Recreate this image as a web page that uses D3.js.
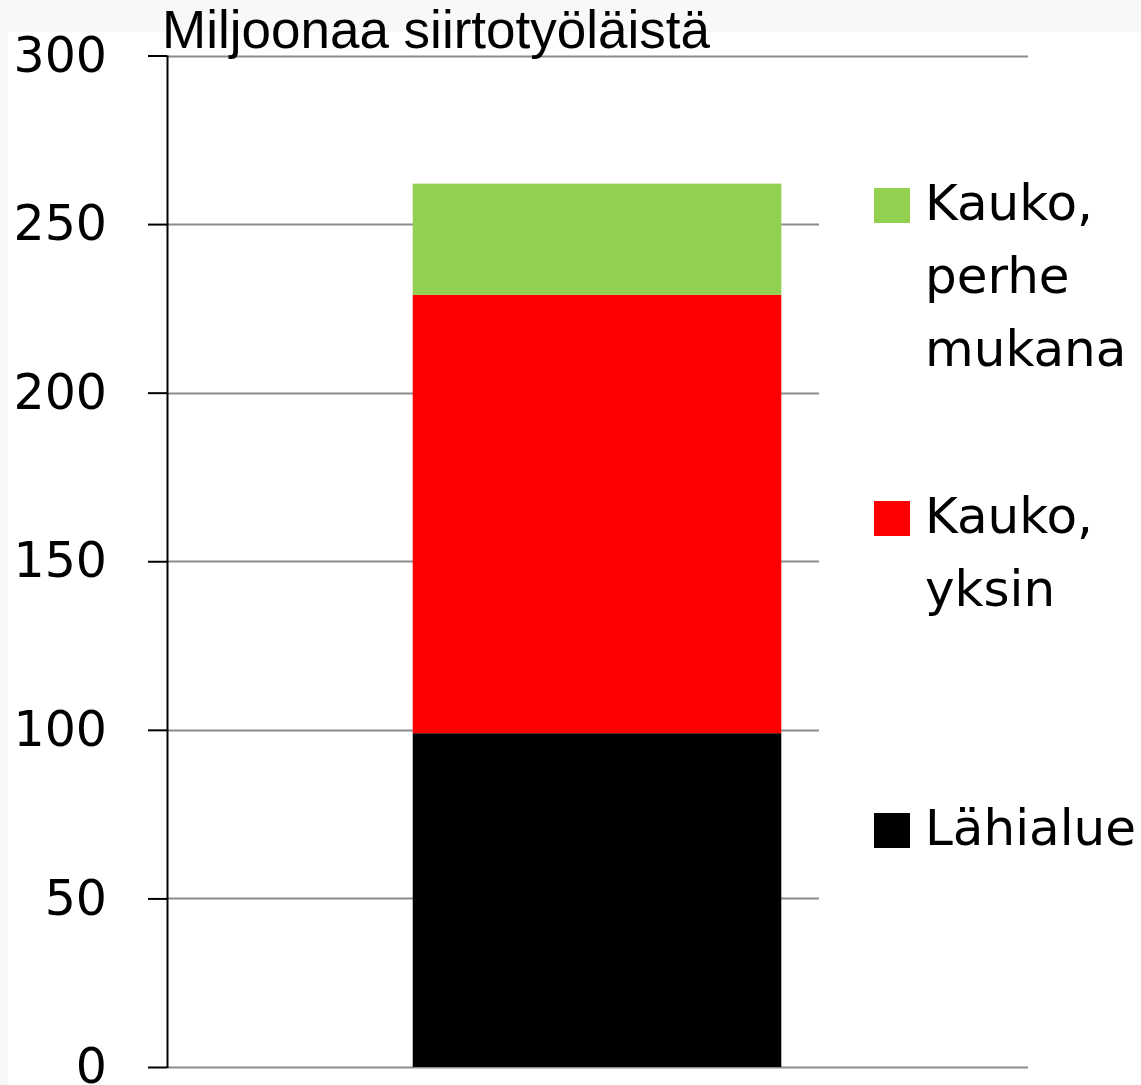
<!DOCTYPE html>
<html>
<head>
<meta charset="utf-8">
<script src="https://cdn.jsdelivr.net/npm/d3@7"></script>
<style>
  html, body { margin: 0; padding: 0; background: #fff; }
  svg { display: block; }
</style>
</head>
<body>
<script>
// ---- Data ----
const categories = ["Siirtotyöläiset"];
const seriesNames = ["Lähialue", "Kauko, yksin", "Kauko, perhe mukana"];
const seriesValues = [99, 130, 33];            // stacked bottom → top
const seriesColors = ["#000000", "#ff0000", "#92d050"];
const legendLines = [["Kauko,", "perhe", "mukana"], ["Kauko,", "yksin"], ["Lähialue"]];
const legendOrder = [2, 1, 0];
const tickValues = [0, 50, 100, 150, 200, 250, 300];
const titleText = "Miljoonaa siirtotyöläistä";

// ---- Layout ----
const W = 1141, H = 1085;
const svg = d3.select("body").append("svg").attr("width", W).attr("height", H);

// faint background strips
svg.append("rect").attr("x", 0).attr("y", 0).attr("width", W).attr("height", 32).attr("fill", "#f6f8fa");
svg.append("rect").attr("x", 0).attr("y", 0).attr("width", 8).attr("height", H).attr("fill", "#f6f8fa");
svg.append("rect").attr("x", 8).attr("y", 32).attr("width", W - 8).attr("height", H - 32).attr("fill", "#fff");

const x0 = 167, x1 = 1028;
const y = d3.scaleLinear().domain([0, 300]).range([1067, 55.5]);
const x = d3.scaleBand().domain(categories).range([x0, x1 - 1]).padding(0.4);

// gridlines
svg.append("g").selectAll("line").data(tickValues).join("line")
  .attr("x1", x0).attr("x2", x1)
  .attr("y1", d => Math.round(y(d)) + 0.5).attr("y2", d => Math.round(y(d)) + 0.5)
  .attr("stroke", "#8c8c8c").attr("stroke-width", 2);

// stacked bars
const stackData = [Object.fromEntries([["cat", categories[0]], ...seriesNames.map((s, i) => [s, seriesValues[i]])])];
const stacked = d3.stack().keys(seriesNames)(stackData);
svg.append("g").selectAll("g").data(stacked).join("g")
  .attr("fill", (d, i) => seriesColors[i])
  .selectAll("rect").data(d => d).join("rect")
  .attr("x", d => x(d.data.cat))
  .attr("width", x.bandwidth())
  .attr("y", d => y(d[1]))
  .attr("height", d => y(d[0]) - y(d[1]));

// legend background (hides gridlines in legend area)
svg.append("rect").attr("x", 819).attr("y", 70).attr("width", W - 819).attr("height", 960).attr("fill", "#fff");

// y axis
const axis = d3.axisLeft(y).tickValues(tickValues).tickSize(19).tickPadding(41);
const gA = svg.append("g").attr("transform", `translate(${x0},0)`).call(axis);
gA.select(".domain").attr("d", `M0.5,${y(300)}V${y(0) + 1}`).attr("stroke", "#000").attr("stroke-width", 2);
gA.selectAll(".tick line").attr("stroke", "#000").attr("stroke-width", 2);
gA.selectAll(".tick text")
  .attr("font-family", "DejaVu Sans").attr("font-size", 49).attr("fill", "#000")
  .attr("dy", "0.32em");

// title
svg.append("text").attr("x", 162).attr("y", 48)
  .attr("font-family", "Liberation Sans, Arial").attr("font-size", 53).attr("fill", "#000")
  .attr("textLength", 548).attr("lengthAdjust", "spacingAndGlyphs")
  .text(titleText);

// legend
const legendTop = [188, 501, 813];
const lg = svg.append("g");
legendOrder.forEach((si, k) => {
  const top = legendTop[k];
  lg.append("rect").attr("x", 874).attr("y", top).attr("width", 36).attr("height", 35).attr("fill", seriesColors[si]);
  const t = lg.append("text").attr("font-family", "DejaVu Sans").attr("font-size", 50).attr("fill", "#000");
  legendLines[k].forEach((ln, j) => {
    t.append("tspan").attr("x", 925).attr("y", top + 32 + j * 73).text(ln);
  });
});
</script>
</body>
</html>
